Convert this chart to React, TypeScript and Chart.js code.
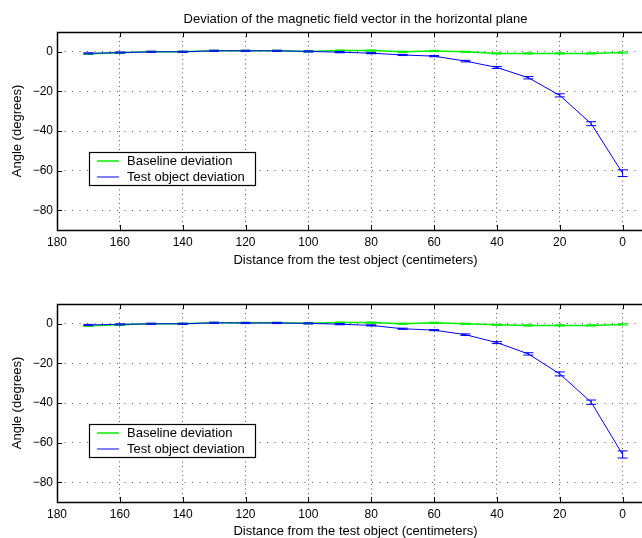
import React, { useEffect, useRef } from "react";
import { Chart, registerables } from "chart.js";

Chart.register(...registerables);

// ---------- data ----------
const distances = [170, 160, 150, 140, 130, 120, 110, 100, 90, 80, 70, 60, 50, 40, 30, 20, 10, 0];
const xTickValues = [0, 20, 40, 60, 80, 100, 120, 140, 160, 180];
const yTickValues = [-80, -60, -40, -20, 0];

const topBaseline = [-1, -0.5, 0, 0, 0.5, 0.5, 0.5, 0.2, 0.6, 0.6, 0, 0.4, 0, -0.8, -0.8, -0.8, -0.8, -0.4];
const topBaselineErr = [0.3, 0.3, 0.3, 0.3, 0.3, 0.3, 0.3, 0.3, 0.3, 0.3, 0.3, 0.3, 0.3, 0.3, 0.3, 0.3, 0.3, 0.3];
const topTest = [-0.8, -0.4, 0, 0, 0.5, 0.5, 0.5, 0.2, -0.2, -0.7, -1.6, -2.2, -4.7, -7.9, -13.1, -22, -36.3, -61.3];
const topTestErr = [0.3, 0.3, 0.3, 0.3, 0.3, 0.3, 0.3, 0.3, 0.3, 0.3, 0.3, 0.3, 0.4, 0.5, 0.6, 0.8, 1.0, 1.7];

const bottomBaseline = [-1, -0.5, 0, 0, 0.5, 0.5, 0.5, 0.3, 0.6, 0.6, 0, 0.5, 0, -0.5, -0.8, -0.8, -0.8, -0.3];
const bottomBaselineErr = [0.3, 0.3, 0.3, 0.3, 0.3, 0.3, 0.3, 0.3, 0.3, 0.3, 0.3, 0.3, 0.3, 0.3, 0.3, 0.3, 0.3, 0.3];
const bottomTest = [-0.6, -0.3, 0, 0, 0.5, 0.4, 0.4, 0.2, -0.2, -0.8, -2.5, -3.2, -5.5, -9.5, -15.2, -25.3, -39.6, -66];
const bottomTestErr = [0.3, 0.3, 0.3, 0.3, 0.3, 0.3, 0.3, 0.3, 0.3, 0.3, 0.3, 0.3, 0.4, 0.5, 0.6, 1.0, 1.1, 1.8];

const seriesLabels = ["Baseline deviation", "Test object deviation"];
const chartTitle = "Deviation of the magnetic field vector in the horizontal plane";
const xTitle = "Distance from the test object (centimeters)";
const yTitle = "Angle (degrees)";

// ---------- styles ----------
const FAMILY = "'Liberation Sans', Arial, Helvetica, sans-serif";
const GREEN = "#00f000";
const BLUE = "#0000ff";
const GRID = "#555555";

const fmt = (v: number) => (v < 0 ? "\u2212" + Math.abs(v) : String(v));

const errorBars = {
  id: "errorBars",
  afterDatasetsDraw(chart: any) {
    const { ctx, scales } = chart;
    const xs = scales.x;
    const ys = scales.y;
    ctx.save();
    const metas = chart.data.datasets.map((d: any, i: number) => ({ d, i }));
    metas.sort((a: any, b: any) => (b.d.order ?? 0) - (a.d.order ?? 0));
    metas.forEach(({ d }: any) => {
      const errs: number[] = d.errors || [];
      ctx.strokeStyle = d.borderColor;
      ctx.lineWidth = 1;
      d.data.forEach((pt: any, j: number) => {
        const e = errs[j] || 0;
        const px = xs.getPixelForValue(pt.x);
        const y1 = ys.getPixelForValue(pt.y + e);
        const y2 = ys.getPixelForValue(pt.y - e);
        ctx.beginPath();
        ctx.moveTo(px, y1);
        ctx.lineTo(px, y2);
        ctx.moveTo(px - 5, y1);
        ctx.lineTo(px + 5, y1);
        ctx.moveTo(px - 5, y2);
        ctx.lineTo(px + 5, y2);
        ctx.stroke();
      });
    });
    ctx.restore();
  },
};

const frame = {
  id: "frame",
  afterDraw(chart: any) {
    const { ctx, chartArea, scales } = chart;
    const { left, right, top, bottom } = chartArea;
    ctx.save();
    ctx.strokeStyle = "#000";
    ctx.lineWidth = 1;
    ctx.beginPath();
    xTickValues.forEach((v) => {
      const px = Math.round(scales.x.getPixelForValue(v)) + 0.5;
      ctx.moveTo(px, bottom);
      ctx.lineTo(px, bottom - 5);
      ctx.moveTo(px, top);
      ctx.lineTo(px, top + 5);
    });
    yTickValues.forEach((v) => {
      const py = Math.round(scales.y.getPixelForValue(v)) + 0.5;
      ctx.moveTo(left, py);
      ctx.lineTo(left + 5, py);
      ctx.moveTo(right, py);
      ctx.lineTo(right - 5, py);
    });
    ctx.stroke();
    ctx.lineWidth = 1.5;
    ctx.strokeRect(Math.round(left) + 0.5, Math.round(top) + 0.5, Math.round(right - left), Math.round(bottom - top));
    ctx.restore();
  },
};

const legendBox = {
  id: "legendBox",
  afterDraw(chart: any) {
    const { ctx, chartArea } = chart;
    const x = Math.round(chartArea.left + 32) + 0.5;
    const y = Math.round(chartArea.top + 119.5) + 0.5;
    const w = 166;
    const h = 33;
    ctx.save();
    ctx.fillStyle = "#fff";
    ctx.fillRect(x, y, w, h);
    ctx.strokeStyle = "#000";
    ctx.lineWidth = 1.2;
    ctx.strokeRect(x, y, w, h);
    ctx.font = `13px ${FAMILY}`;
    ctx.textBaseline = "middle";
    ctx.textAlign = "left";
    chart.data.datasets.forEach((ds: any, i: number) => {
      const ly = y + 8.5 + i * 16;
      ctx.strokeStyle = ds.borderColor;
      ctx.lineWidth = ds.borderWidth;
      ctx.beginPath();
      ctx.moveTo(x + 7.5, ly);
      ctx.lineTo(x + 29.5, ly);
      ctx.stroke();
      ctx.fillStyle = "#000";
      ctx.fillText(ds.label, x + 37.5, ly + 0.5);
    });
    ctx.restore();
  },
};

type PanelProps = {
  title?: string;
  baseline: number[];
  baselineErr: number[];
  test: number[];
  testErr: number[];
  height: number;
  padTop: number;
  xAxisHeight: number;
  xTitlePad: number;
};

function Panel(p: PanelProps) {
  const ref = useRef<HTMLCanvasElement>(null);
  useEffect(() => {
    const tickFont = { family: FAMILY, size: 12 };
    const labelFont = { family: FAMILY, size: 13, lineHeight: 1 };
    const chart = new Chart(ref.current as HTMLCanvasElement, {
      type: "line",
      data: {
        datasets: [
          {
            label: seriesLabels[0],
            data: distances.map((x, i) => ({ x, y: p.baseline[i] })),
            errors: p.baselineErr,
            borderColor: GREEN,
            backgroundColor: GREEN,
            borderWidth: 1.5,
            pointRadius: 0,
            tension: 0,
            order: 1,
          } as any,
          {
            label: seriesLabels[1],
            data: distances.map((x, i) => ({ x, y: p.test[i] })),
            errors: p.testErr,
            borderColor: BLUE,
            backgroundColor: BLUE,
            borderWidth: 1,
            pointRadius: 0,
            tension: 0,
            order: 0,
          } as any,
        ],
      },
      options: {
        animation: false,
        responsive: false,
        devicePixelRatio: 1,
        layout: { padding: { top: p.title ? 0 : p.padTop, right: 6, left: 0, bottom: 0 } },
        plugins: {
          legend: { display: false },
          tooltip: { enabled: false },
          title: {
            display: !!p.title,
            text: p.title || "",
            color: "#000",
            font: { family: FAMILY, size: 13, weight: "normal", lineHeight: 1.2 },
            padding: { top: 11.5, bottom: 4.9 },
            fullSize: false,
          },
        },
        scales: {
          x: {
            type: "linear",
            reverse: true,
            min: -10,
            max: 180,
            afterBuildTicks: (s: any) => {
              s.ticks = xTickValues.map((v) => ({ value: v }));
            },
            afterFit: (s: any) => {
              s.height = p.xAxisHeight;
            },
            grid: { drawTicks: false, color: GRID, lineWidth: 1 },
            border: { display: false, dash: [1, 3.5] },
            ticks: {
              padding: 5,
              color: "#000",
              font: tickFont,
              maxRotation: 0,
              autoSkip: false,
              callback: (v: any) => fmt(Number(v)),
            },
            title: {
              display: true,
              text: xTitle,
              color: "#000",
              font: labelFont,
              padding: { top: 0, bottom: p.xTitlePad },
            },
          },
          y: {
            type: "linear",
            min: -90,
            max: 10,
            afterBuildTicks: (s: any) => {
              s.ticks = yTickValues.map((v) => ({ value: v }));
            },
            afterFit: (s: any) => {
              s.width = 57;
            },
            grid: { drawTicks: false, color: GRID, lineWidth: 1 },
            border: { display: false, dash: [1, 6.5] },
            ticks: {
              padding: 4,
              color: "#000",
              font: tickFont,
              callback: (v: any) => fmt(Number(v)),
            },
            title: {
              display: true,
              text: yTitle,
              color: "#000",
              font: labelFont,
              padding: { top: 11, bottom: 0 },
            },
          },
        },
      } as any,
      plugins: [errorBars, frame, legendBox],
    });
    return () => chart.destroy();
  }, []);
  return (
    <canvas
      ref={ref}
      width={660}
      height={p.height}
      style={{ display: "block", width: 660, height: p.height }}
    />
  );
}

export default function App() {
  return (
    <div
      style={{
        position: "fixed",
        left: 0,
        top: 0,
        width: 642,
        height: 538,
        overflow: "hidden",
        background: "#fff",
      }}
    >
      <Panel
        title={chartTitle}
        baseline={topBaseline}
        baselineErr={topBaselineErr}
        test={topTest}
        testErr={topTestErr}
        height={270}
        padTop={0}
        xAxisHeight={40}
        xTitlePad={3.5}
      />
      <Panel
        baseline={bottomBaseline}
        baselineErr={bottomBaselineErr}
        test={bottomTest}
        testErr={bottomTestErr}
        height={268}
        padTop={34}
        xAxisHeight={36}
        xTitlePad={0.3}
      />
    </div>
  );
}
